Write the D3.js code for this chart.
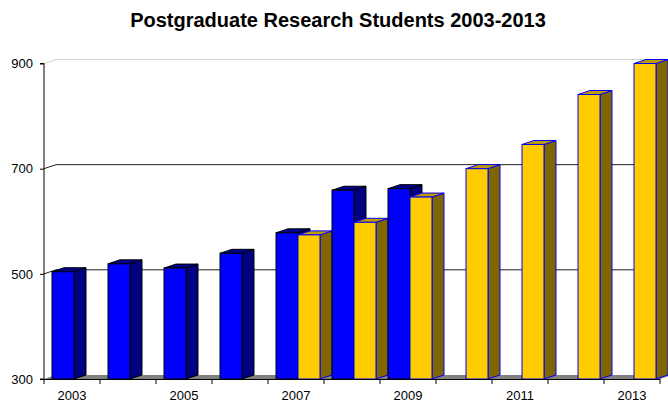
<!DOCTYPE html>
<html><head><meta charset="utf-8">
<script src="https://cdn.jsdelivr.net/npm/d3@7/dist/d3.min.js"></script>
<style>
body{margin:0;background:#fff;}
svg{display:block;font-family:"Liberation Sans",Arial,sans-serif;}
</style></head>
<body>
<svg id="c" width="668" height="403"></svg>
<script>
(function(){
const title = "Postgraduate Research Students 2003-2013";
const years = ["2003","2004","2005","2006","2007","2008","2009","2010","2011","2012","2013"];
const seriesA = [504, 519, 511, 539, 578, 659, 662, null, null, null, null];
const seriesB = [null, null, null, null, 574, 598, 646, 700, 746, 841, 900];
const yTicks = [300, 500, 700, 900];
const xLabels = ["2003","2005","2007","2009","2011","2013"];

const svg = d3.select("#c");
const pLeft = 44, pRight = 660, pTop = 63.5, pBottom = 379;
const dx = 12, dy = 4;

const x = d3.scaleBand().domain(years).range([pLeft, pRight]).paddingInner(0).paddingOuter(0);
const y = d3.scaleLinear().domain([300, 900]).range([pBottom, pTop]);
const bw = x.bandwidth();
const barOff = [bw*8/56, bw*30/56];
const barW = bw*22/56;

svg.append("text").attr("x", 338).attr("y", 27).attr("text-anchor","middle")
  .attr("font-size", 20).attr("font-weight","bold").attr("fill","#000").text(title);

svg.append("path")
  .attr("d", `M${pLeft},${pBottom}L${pLeft+dx},${pBottom-dy}L${pRight+dx},${pBottom-dy}L${pRight},${pBottom}Z`)
  .attr("fill","#808080");

yTicks.filter(v => v > 300).forEach(v => {
  const yy = y(v);
  const col = v === 900 ? "#d0d0d0" : "#202020";
  svg.append("path").attr("d", `M${pLeft},${yy}L${pLeft+dx},${yy-dy}L${pRight},${yy-dy}`)
    .attr("fill","none").attr("stroke", col).attr("stroke-width",1);
});

const styles = [
  {front:"#0000FF", side:"#000080", topc:"#00008C", stroke:"#000000"},
  {front:"#FFCC00", side:"#806600", topc:"#C09A00", stroke:"#0000FF"}
];
const g = svg.append("g");
years.forEach((yr, i) => {
  [seriesA[i], seriesB[i]].forEach((v, s) => {
    if (v == null) return;
    const x0 = x(yr) + barOff[s], x1 = x0 + barW;
    const y0 = y(v), y1 = y(300);
    const st = styles[s];
    g.append("path").attr("d", `M${x1},${y0}L${x1+dx},${y0-dy}L${x1+dx},${y1-dy}L${x1},${y1}Z`)
      .attr("fill", st.side).attr("stroke", st.stroke).attr("stroke-width",1).attr("stroke-linejoin","round");
    g.append("path").attr("d", `M${x0},${y0}L${x0+dx},${y0-dy}L${x1+dx},${y0-dy}L${x1},${y0}Z`)
      .attr("fill", st.topc).attr("stroke", st.stroke).attr("stroke-width",1).attr("stroke-linejoin","round");
    g.append("rect").attr("x", x0).attr("y", y0).attr("width", barW).attr("height", y1 - y0)
      .attr("fill", st.front).attr("stroke", st.stroke).attr("stroke-width",1);
  });
});

const ya = svg.append("g").attr("transform", `translate(${pLeft},0)`)
  .call(d3.axisLeft(y).tickValues(yTicks).tickSize(4).tickPadding(7).tickFormat(d3.format("d")));
ya.select(".domain").attr("stroke","#000").attr("d", `M-4,${pTop}H0V${pBottom}H-4`);
ya.selectAll("text").attr("font-size",13).attr("font-family","Liberation Sans, Arial, sans-serif").attr("fill","#000");

const boundaries = years.map(d => x(d)).concat([pRight]);
const xa = svg.append("g");
xa.append("line").attr("x1", pLeft).attr("x2", pRight).attr("y1", pBottom+0.5).attr("y2", pBottom+0.5).attr("stroke","#000");
xa.selectAll("line.t").data(boundaries).join("line").attr("class","t")
  .attr("x1", d => d).attr("x2", d => d).attr("y1", pBottom).attr("y2", pBottom+5).attr("stroke","#000");
xa.selectAll("text").data(xLabels).join("text")
  .attr("x", d => x(d) + bw/2).attr("y", 400).attr("text-anchor","middle")
  .attr("font-size",13).attr("fill","#000").text(d => d);
})();
</script>
</body></html>
